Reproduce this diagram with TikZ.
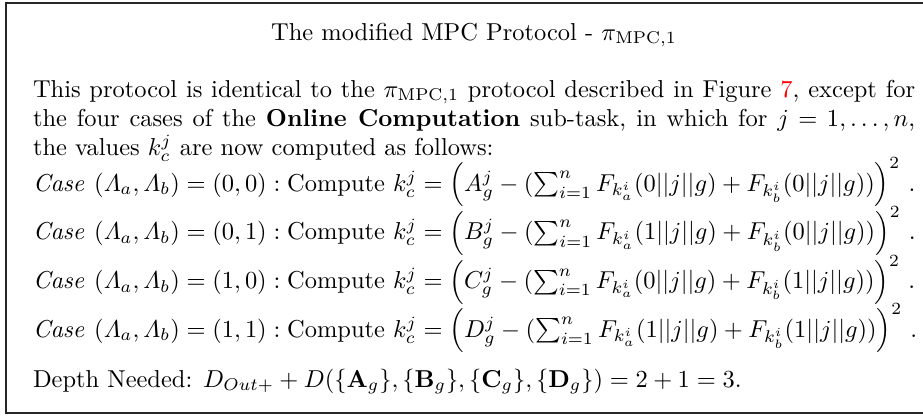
\documentclass[tikz,border=0pt]{standalone}
\usepackage{amsmath}
\newlength\bodywd
\setlength\bodywd{360.6pt}
\newcommand\casekc[5]{$\mathit{Case}\ (\varLambda_a,\varLambda_b)=(#1,#2):\text{Compute }k_c^j=\left(#3_g^j-(\sum_{i=1}^n F_{k_a^i}(#4||j||g)+F_{k_b^i}(#5||j||g))\right)^2$ .}
\tikzset{
  txt/.style={inner sep=0pt, outer sep=0pt, font=\normalsize},
  frame/.style={line width=0.45pt, draw=black!85}
}
\begin{document}
\begin{tikzpicture}[x=0.4088pt,y=-0.4088pt]
  \useasboundingbox (0,0) rectangle (923,415);
  \begin{scope}
    \clip (0,0) rectangle (923,415);
    % the framing box, open to the right
    \draw[frame] (950,3) -- (6,3) -- (6,413) -- (950,413);
  \end{scope}
  % heading
  \node[txt, anchor=base] (title) at (474,40) {The modified MPC Protocol - $\pi_{\mathrm{MPC},1}$};
  % introductory paragraph, justified lines
  \node[txt, anchor=base west] (p1) at (33,97) {\hbox to \bodywd{This protocol is identical to the $\pi_{\mathrm{MPC},1}$ protocol described in Figure \textcolor{red}{7}, except for}};
  \node[txt, anchor=base west] (p2) at (33,126.4) {\hbox to \bodywd{the four cases of the \textbf{Online Computation} sub-task, in which for $j=1,\ldots,n$,}};
  \node[txt, anchor=base west] (p3) at (33,155.8) {the values $k_c^j$ are now computed as follows:};
  % the four cases
  \node[txt, anchor=base west] (c1) at (33,191) {\casekc{0}{0}{A}{0}{0}};
  \node[txt, anchor=base west] (c2) at (33,239.7) {\casekc{0}{1}{B}{1}{0}};
  \node[txt, anchor=base west] (c3) at (33,288.4) {\casekc{1}{0}{C}{0}{1}};
  \node[txt, anchor=base west] (c4) at (33,337) {\casekc{1}{1}{D}{1}{1}};
  % depth summary
  \node[txt, anchor=base west] (depth) at (33,387) {Depth Needed: $D_{Out+}+D(\{\mathbf{A}_g\},\{\mathbf{B}_g\},\{\mathbf{C}_g\},\{\mathbf{D}_g\})=2+1=3$.};
\end{tikzpicture}
\end{document}
